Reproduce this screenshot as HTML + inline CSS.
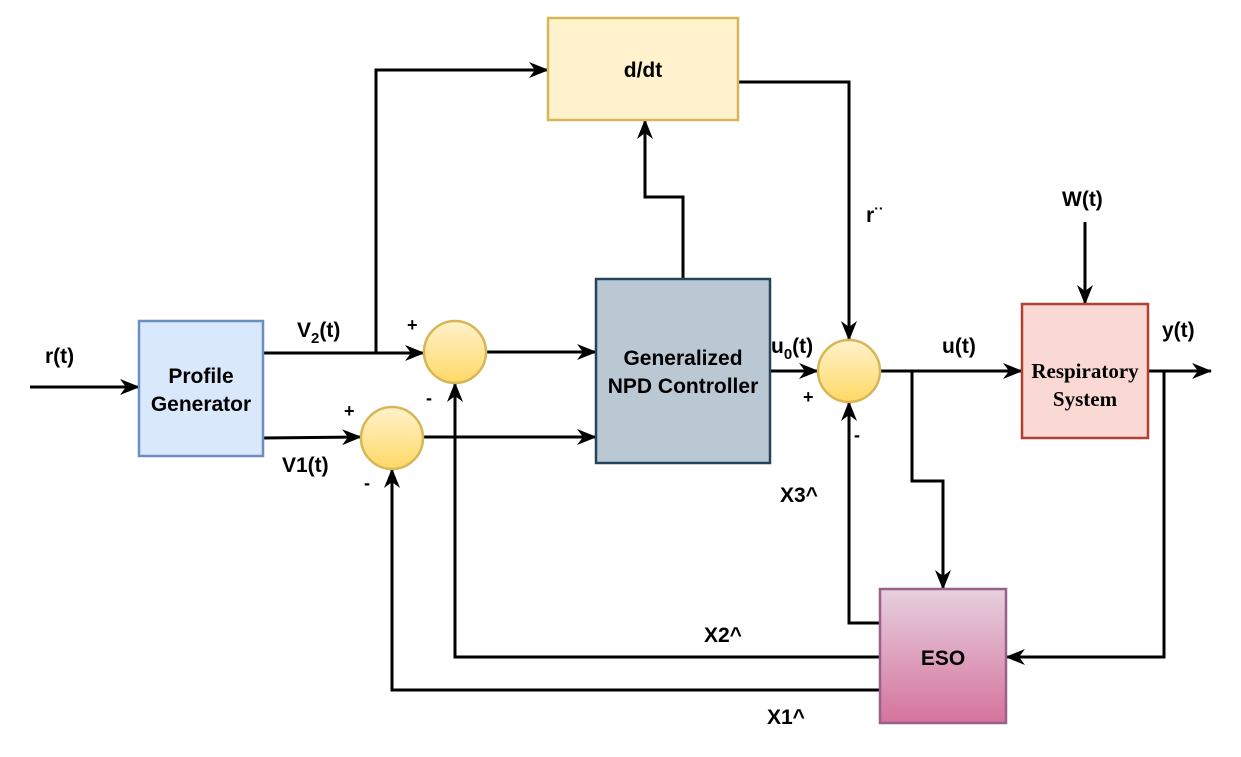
<!DOCTYPE html>
<html><head><meta charset="utf-8"><style>
html,body{margin:0;padding:0;background:#fff;}
svg{display:block;}
text{font-family:"Liberation Sans",sans-serif;font-weight:bold;fill:#000;}
text.serif{font-family:"Liberation Serif",serif;}
</style></head><body>
<svg width="1241" height="757" viewBox="0 0 1241 757" xmlns="http://www.w3.org/2000/svg">
<defs>
<marker id="a" viewBox="0 0 20 16" refX="19" refY="8" markerWidth="20" markerHeight="16" markerUnits="userSpaceOnUse" orient="auto">
<path d="M0,0 L20,8 L0,16 L6,8 z" fill="#000"/></marker>
<linearGradient id="gy" x1="0" y1="0" x2="0" y2="1"><stop offset="0" stop-color="#fff2cc"/><stop offset="1" stop-color="#ffd966"/></linearGradient>
<linearGradient id="gp" x1="0" y1="0" x2="0" y2="1"><stop offset="0" stop-color="#e6d0de"/><stop offset="1" stop-color="#d5739d"/></linearGradient>
</defs>
<g stroke="#000" stroke-width="3" fill="none">
<line x1="30" y1="387" x2="139" y2="387" marker-end="url(#a)"/>
<line x1="263" y1="353" x2="424" y2="353" marker-end="url(#a)"/>
<polyline points="376,353 376,70 548,70" marker-end="url(#a)"/>
<line x1="486" y1="352" x2="596" y2="352" marker-end="url(#a)"/>
<line x1="263" y1="438" x2="361" y2="437" marker-end="url(#a)"/>
<line x1="423" y1="437" x2="596" y2="437" marker-end="url(#a)"/>
<polyline points="683,279 683,197 645,197 645,120" marker-end="url(#a)"/>
<polyline points="738,82 849,82 849,340" marker-end="url(#a)"/>
<line x1="770" y1="371" x2="818" y2="371" marker-end="url(#a)"/>
<line x1="880" y1="371" x2="1022" y2="371" marker-end="url(#a)"/>
<polyline points="912,371 912,481 943,481 943,589" marker-end="url(#a)"/>
<line x1="1085" y1="222" x2="1085" y2="304" marker-end="url(#a)"/>
<line x1="1148" y1="371" x2="1211" y2="371" marker-end="url(#a)"/>
<polyline points="1164,371 1164,657 1006,657" marker-end="url(#a)"/>
<polyline points="880,623 849,623 849,402" marker-end="url(#a)"/>
<polyline points="880,657 455,657 455,383" marker-end="url(#a)"/>
<polyline points="880,690 392,690 392,469" marker-end="url(#a)"/>
</g>
<rect x="139" y="321" width="124" height="135" fill="#dae8fc" stroke="#6c8ebf" stroke-width="2.5"/>
<rect x="548" y="18" width="190" height="102" fill="#fff2cc" stroke="#d6b656" stroke-width="2.5"/>
<rect x="596" y="279" width="174" height="184" fill="#bac8d3" stroke="#23445d" stroke-width="2.5"/>
<rect x="1022" y="304" width="126" height="134" fill="#fad9d5" stroke="#ae4132" stroke-width="2.5"/>
<rect x="880" y="589" width="126" height="134" fill="url(#gp)" stroke="#996185" stroke-width="2.5"/>
<circle cx="455" cy="352" r="31" fill="url(#gy)" stroke="#d6b656" stroke-width="2.5"/>
<circle cx="392" cy="438" r="31" fill="url(#gy)" stroke="#d6b656" stroke-width="2.5"/>
<circle cx="849" cy="371" r="31" fill="url(#gy)" stroke="#d6b656" stroke-width="2.5"/>
<g font-size="21">
<text x="45" y="363">r(t)</text>
<text x="201" y="383" text-anchor="middle">Profile</text>
<text x="201" y="411" text-anchor="middle">Generator</text>
<text x="297" y="337">V<tspan font-size="15" dy="6">2</tspan><tspan dy="-6">(t)</tspan></text>
<text x="282" y="472">V1(t)</text>
<text x="407" y="331" font-size="18">+</text>
<text x="426" y="404" font-size="18">-</text>
<text x="344" y="417" font-size="18">+</text>
<text x="364" y="489" font-size="18">-</text>
<text x="643" y="77" text-anchor="middle">d/dt</text>
<text x="683" y="365" text-anchor="middle">Generalized</text>
<text x="683" y="393" text-anchor="middle">NPD Controller</text>
<text x="771" y="353">u<tspan font-size="15" dy="6">0</tspan><tspan dy="-6">(t)</tspan></text>
<text x="803" y="403" font-size="18">+</text>
<text x="854" y="441" font-size="18">-</text>
<text x="866" y="222">r<tspan font-size="14" dy="-9">··</tspan></text>
<text x="942" y="353">u(t)</text>
<text x="1062" y="206">W(t)</text>
<text x="1162" y="337">y(t)</text>
<text class="serif" x="1085" y="378" text-anchor="middle" font-size="21">Respiratory</text>
<text class="serif" x="1085" y="406" text-anchor="middle" font-size="21">System</text>
<text x="943" y="665" text-anchor="middle">ESO</text>
<text x="780" y="502">X3^</text>
<text x="704" y="642">X2^</text>
<text x="767" y="724">X1^</text>
</g>
</svg>
</body></html>
